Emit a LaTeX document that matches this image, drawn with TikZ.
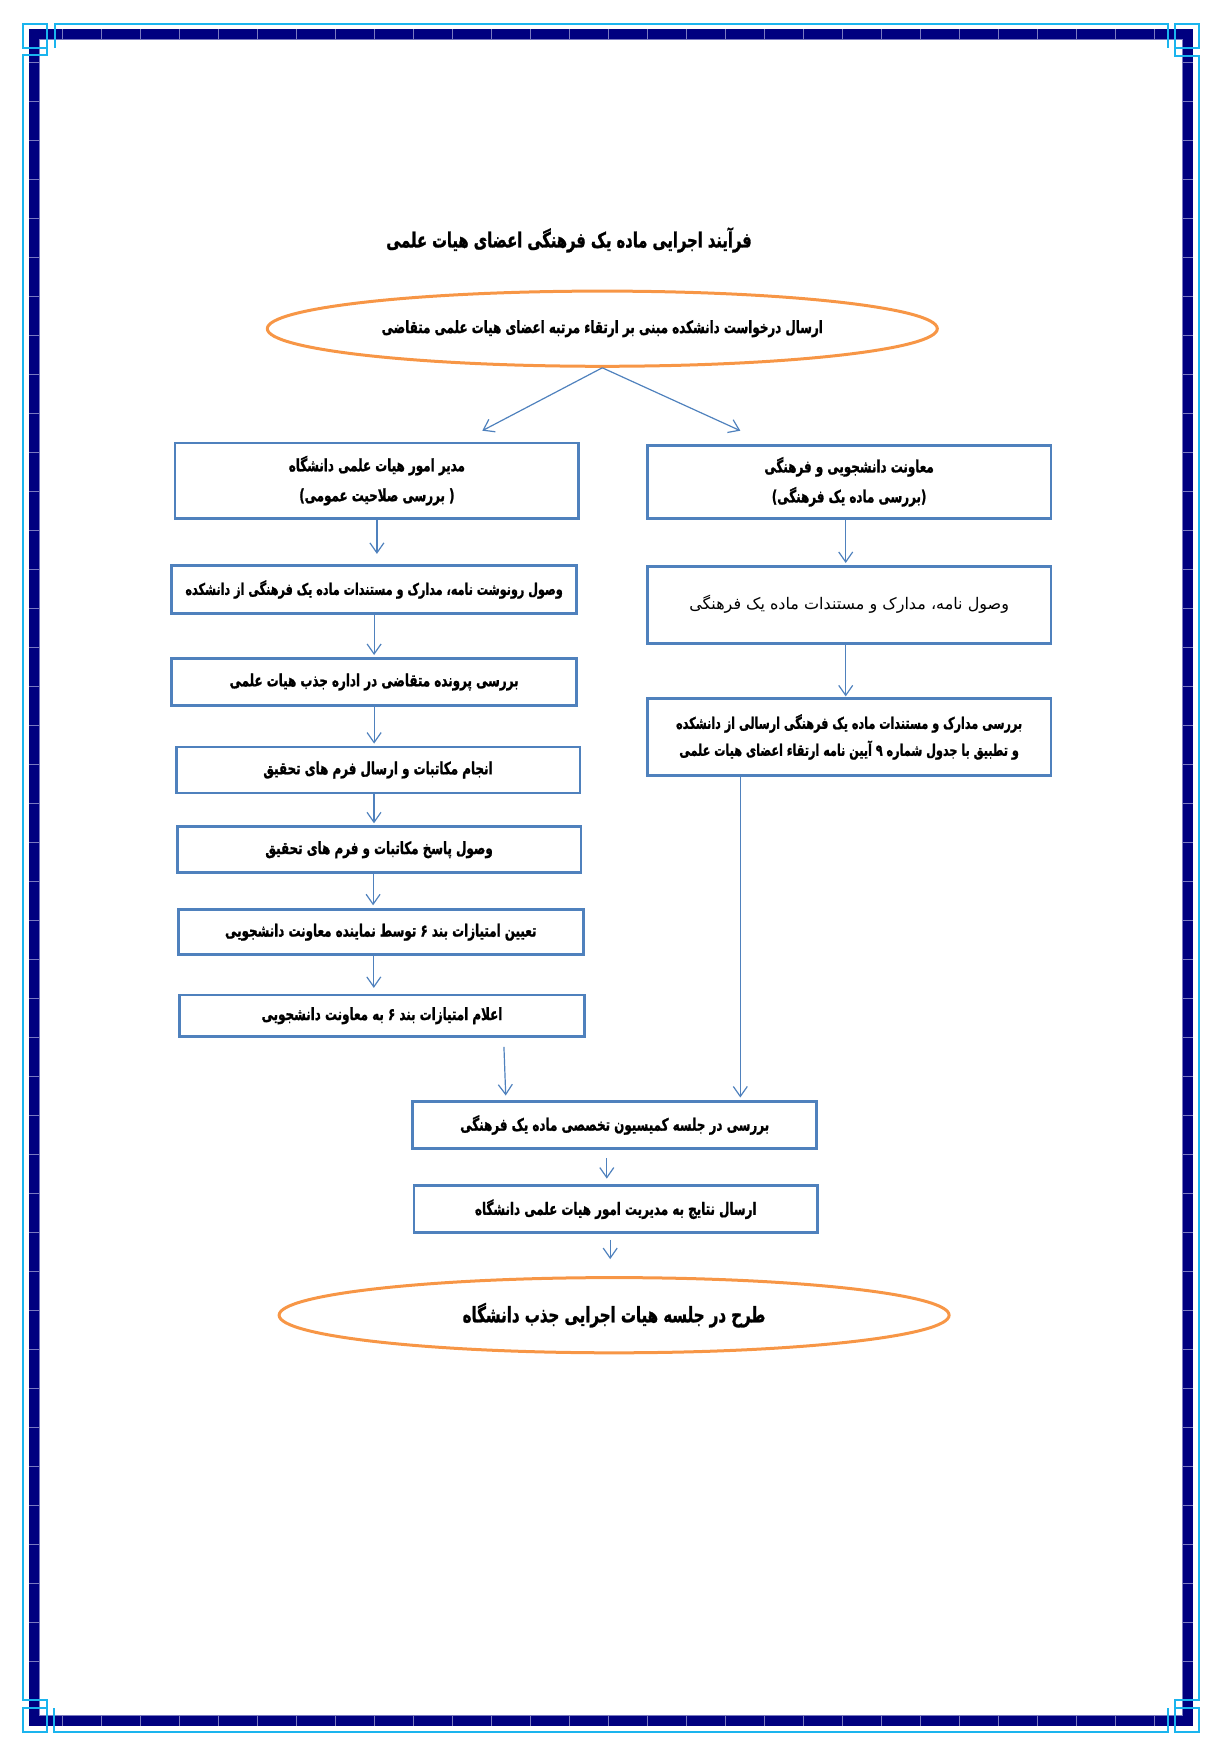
\documentclass[tikz,border=0pt]{standalone}
\usepackage{fontspec}
\usetikzlibrary{shapes.geometric,arrows.meta}
\TeXXeTstate=1
\newfontfamily\farsifont[Script=Arabic, FakeStretch=0.7, BoldFeatures={FakeBold=1.2}]{DejaVu Sans}
\newfontfamily\farsiplain[Script=Arabic]{DejaVu Sans}
\newcommand\rl[1]{\beginR #1\endR}
\definecolor{boxblue}{HTML}{4F81BD}
\definecolor{arrowblue}{HTML}{4F81BD}
\definecolor{ovalorange}{HTML}{F79646}
\definecolor{framenavy}{HTML}{000080}
\definecolor{framecyan}{HTML}{1AB4EE}
\definecolor{framelav}{HTML}{7A7AC0}
\begin{document}
\begin{tikzpicture}[x=0.5pt,y=-0.5pt,
  box/.style={draw=boxblue, line width=1.4pt, rectangle, inner sep=0pt, align=center,
    font=\farsifont\bfseries\fontsize{8.5}{15}\selectfont},
  oval/.style={draw=ovalorange, line width=1.5pt, ellipse, inner sep=0pt,
    minimum width=335pt, minimum height=37.6pt},
  arr/.style={draw=arrowblue, line width=0.6pt, -{Straight Barb[length=5pt,width=7pt]}},
  cyanline/.style={draw=framecyan, line width=1pt},
]
\useasboundingbox (0,0) rectangle (1217,1759);
% ---------- page frame ----------
\draw[framenavy, line width=5pt, line join=miter] (34,34.5) rectangle (1187.7,1720.7);
\foreach \t in {62,101,...,1160} {
  \draw[framelav, line width=0.3pt] (\t,29.5) -- (\t,39.5);
  \draw[framelav, line width=0.3pt] (\t,1715.7) -- (\t,1725.7);
}
\foreach \t in {62,101,...,1700} {
  \draw[framelav, line width=0.3pt] (29,\t) -- (39,\t);
  \draw[framelav, line width=0.3pt] (1182.7,\t) -- (1192.7,\t);
}
\draw[framelav, line width=0.3pt] (39,39.5) rectangle (1182.7,1715.7);
% cyan outer lines
\draw[cyanline] (23,24) rectangle (47,48);
\draw[cyanline] (1175,24) rectangle (1199,48);
\draw[cyanline] (23,1708) rectangle (47,1732);
\draw[cyanline] (1175,1708) rectangle (1199,1732);
\draw[cyanline] (55,48) -- (55,24) -- (1168,24) -- (1168,48);
\draw[cyanline] (54,1708) -- (54,1732) -- (1168,1732) -- (1168,1708);
\draw[cyanline] (47,48) -- (47,55) -- (23,55) -- (23,1700) -- (47,1700) -- (47,1708);
\draw[cyanline] (1175,48) -- (1175,56) -- (1199,56) -- (1199,1700) -- (1175,1700) -- (1175,1708);
% ---------- title ----------
\node[font=\farsifont\bfseries\fontsize{10.5}{12}\selectfont] (title) at (569,240)
  {\rl{فرآیند اجرایی ماده یک فرهنگی اعضای هیات علمی}};
% ---------- ellipses ----------
\node[oval, font=\farsifont\bfseries\fontsize{8.5}{10}\selectfont] (e1) at (602.3,328.7)
  {\rl{ارسال درخواست دانشکده مبنی بر ارتقاء مرتبه اعضای هیات  علمی متقاضی}};
\node[oval, font=\farsifont\bfseries\fontsize{10.7}{12}\selectfont] (e2) at (614.1,1315.2)
  {\rl{طرح در جلسه هیات اجرایی جذب دانشگاه}};
% ---------- left column ----------
\node[box, minimum width=201.9pt, minimum height=37.6pt] (l1) at (376.9,480.6)
  {\rl{مدیر امور هیات علمی دانشگاه}\\ \rl{( بررسی صلاحیت عمومی)}};
\node[box, minimum width=202.4pt, minimum height=24.2pt,
  font=\farsifont\bfseries\fontsize{8}{15}\selectfont] (l2) at (374.1,589.5)
  {\rl{وصول رونوشت  نامه، مدارک و مستندات  ماده یک فرهنگی از دانشکده}};
\node[box, minimum width=202.4pt, minimum height=23.6pt] (l3) at (374.1,682)
  {\rl{بررسی پرونده متقاضی در اداره جذب هیات علمی}};
\node[box, minimum width=201.9pt, minimum height=23pt] (l4) at (378,770)
  {\rl{انجام مکاتبات و ارسال فرم های تحقیق}};
\node[box, minimum width=201.9pt, minimum height=23pt] (l5) at (379.1,849.7)
  {\rl{وصول پاسخ مکاتبات و فرم های تحقیق}};
\node[box, minimum width=202.5pt, minimum height=22.5pt] (l6) at (380.8,932.2)
  {\rl{تعیین امتیازات بند ۶ توسط نماینده معاونت دانشجویی}};
\node[box, minimum width=202.5pt, minimum height=20.8pt] (l7) at (382,1015.7)
  {\rl{اعلام امتیازات بند ۶ به معاونت دانشجویی}};
% ---------- right column ----------
\node[box, minimum width=201.9pt, minimum height=36.5pt] (r1) at (849.1,481.8)
  {\rl{معاونت دانشجویی و فرهنگی}\\ \rl{(بررسی ماده یک فرهنگی)}};
\node[box, minimum width=201.9pt, minimum height=38.7pt,
  font=\farsiplain\mdseries\fontsize{8}{10}\selectfont] (r2) at (849.1,605.1)
  {\raisebox{3pt}{\rl{وصول نامه، مدارک و مستندات  ماده یک فرهنگی}}};
\node[box, minimum width=201.9pt, minimum height=38.2pt,
  font=\farsifont\bfseries\fontsize{8}{13.5}\selectfont] (r3) at (849.1,737)
  {\rl{بررسی مدارک و مستندات ماده یک فرهنگی ارسالی از دانشکده}\\
   \rl{و تطبیق با جدول شماره ۹ آیین نامه ارتقاء  اعضای هیات علمی}};
% ---------- bottom ----------
\node[box, minimum width=201.9pt, minimum height=23.6pt] (b8) at (614.7,1125)
  {\rl{بررسی در جلسه کمیسیون  تخصصی ماده یک فرهنگی}};
\node[box, minimum width=201.9pt, minimum height=23.6pt] (b9) at (615.8,1209.2)
  {\rl{ارسال نتایج به مدیریت امور هیات علمی دانشگاه}};
% ---------- connectors ----------
\coordinate (eL) at (482.3,430.7);
\coordinate (eR) at (740.3,430.7);
\draw[arr] (e1.south) -- (eL);
\draw[arr] (e1.south) -- (eR);
\draw[arr, shorten >=5pt] (l1.south) -- (l1.south |- l2.north);
\draw[arr, shorten >=1pt] (l2.south) -- (l2.south |- l3.north);
\draw[arr, shorten >=1pt] (l3.south) -- (l3.south |- l4.north);
\draw[arr, shorten >=1pt] ([xshift=-2pt]l4.south) -- ([xshift=-2pt]l4.south |- l5.north);
\draw[arr, shorten >=1.5pt] ([xshift=-3pt]l5.south) -- ([xshift=-3pt]l5.south |- l6.north);
\draw[arr, shorten >=2.8pt] ([xshift=-3.5pt]l6.south) -- ([xshift=-3.5pt]l6.south |- l7.north);
\draw[arr, shorten <=4.5pt, shorten >=2.25pt] ([xshift=60.8pt]l7.south) -- ([xshift=-54.4pt]b8.north);
\draw[arr, shorten >=1pt] ([xshift=-1.7pt]r1.south) -- ([xshift=-1.7pt]r1.south |- r2.north);
\draw[arr, shorten >=0.5pt] ([xshift=-1.7pt]r2.south) -- ([xshift=-1.7pt]r2.south |- r3.north);
\draw[arr, shorten >=1.25pt] ([xshift=-54.4pt]r3.south) -- ([xshift=-54.4pt]r3.south |- b8.north);
\draw[arr, shorten <=4pt, shorten >=2.8pt] ([xshift=-3.95pt]b8.south) -- ([xshift=-3.95pt]b8.south |- b9.north);
\draw[arr, shorten <=2.85pt, shorten >=8.5pt] ([xshift=-2.8pt]b9.south) -- ([xshift=-2.8pt]b9.south |- e2.north);
\end{tikzpicture}
\end{document}
